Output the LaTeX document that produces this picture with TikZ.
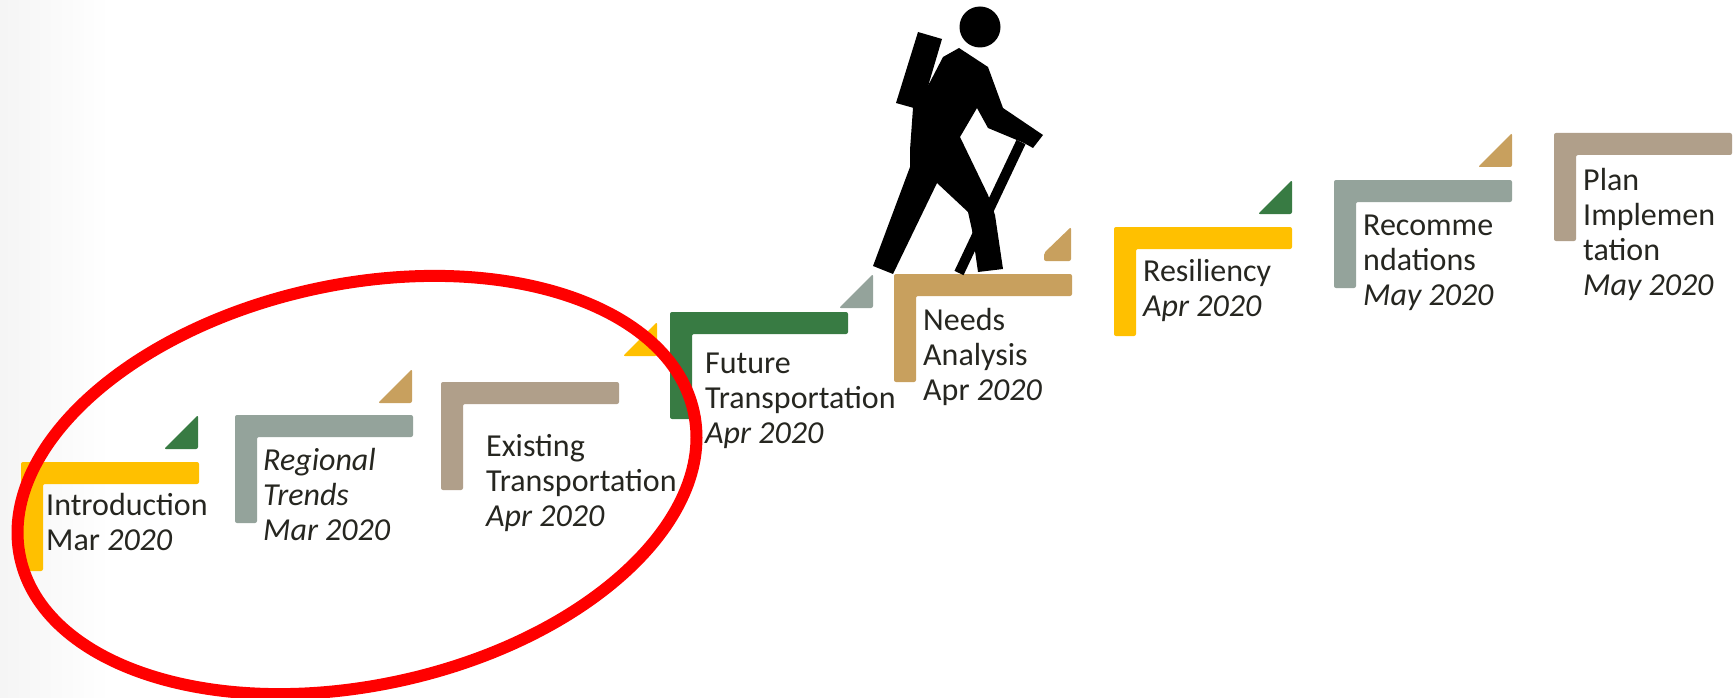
\documentclass[tikz,border=0pt]{standalone}
\usepackage{fontspec}
\setmainfont{Carlito}
\definecolor{cyel}{HTML}{FFC000}
\definecolor{cgrn}{HTML}{387B43}
\definecolor{cgry}{HTML}{94A39B}
\definecolor{ctan}{HTML}{C8A05E}
\definecolor{cbei}{HTML}{B09F8A}
\definecolor{ctext}{HTML}{262620}
\newcommand\stepL[4]{\fill[#1, rounded corners=2pt] (#2,#3) -- ++(178,0) -- ++(0,22) -- ++(-156,0) -- ++(0,#4-22) -- ++(-22,0) -- cycle;}
\newcommand\triR[3]{\fill[#1, rounded corners=2pt] (#2,#3) -- ++(-34,0) -- ++(34,-34) -- cycle;}
\newcommand\lines[1]{\begin{tabular}[t]{@{}l@{}}#1\end{tabular}}
\begin{document}
\begin{tikzpicture}[x=1pt,y=-1pt,
  lbl/.style={inner sep=0pt, anchor=base west, text=ctext, font=\fontsize{32pt}{35pt}\selectfont},
  hiker/.style={fill=black}]
\useasboundingbox (0,0) rectangle (1735,698);
\fill[white] (0,0) rectangle (1735,698);
\shade[left color=black!4, right color=white] (0,0) rectangle (110,698);
% steps
\stepL{cyel}{21}{462}{109}
\stepL{cgry}{235}{415}{108}
\stepL{cbei}{441}{382}{108}
\stepL{cgrn}{670}{312}{107}
\stepL{ctan}{894}{274}{108}
\stepL{cyel}{1114}{227}{109}
\stepL{cgry}{1334}{180}{108}
\stepL{cbei}{1554}{133}{108}
% triangles
\triR{cgrn}{198}{449}
\triR{ctan}{412}{403}
\triR{cyel}{657}{356}
\triR{cgry}{873}{308}
\fill[ctan, rounded corners=2pt] (1044,261) -- (1071,261) -- (1071,227) -- (1044,253) -- cycle;
\triR{cgrn}{1292}{214}
\triR{ctan}{1512}{167}
% labels
\node[lbl] (intro) at (46,515) {\lines{Introduction\\Mar \textit{2020}}};
\node[lbl] (regional) at (263,470) {\lines{\textit{Regional}\\\textit{Trends}\\\textit{Mar 2020}}};
\node[lbl] (existing) at (486,456) {\lines{Existing\\Transportation\\\textit{Apr 2020}}};
\node[lbl] (future) at (705,373) {\lines{Future\\Transportation\\\textit{Apr 2020}}};
\node[lbl] (needs) at (923,330) {\lines{Needs\\Analysis\\Apr \textit{2020}}};
\node[lbl] (resil) at (1143,281) {\lines{Resiliency\\\textit{Apr 2020}}};
\node[lbl] (recom) at (1363,235) {\lines{Recomme\\ndations\\\textit{May 2020}}};
\node[lbl] (plan) at (1583,190) {\lines{Plan\\Implemen\\tation\\\textit{May 2020}}};
% hiker
\fill[hiker] (980,27) circle[radius=20.5pt];
\fill[hiker] (918,32) -- (942,39) -- (921,110) -- (896,103) -- cycle;
\fill[hiker] (959,48) -- (988,67) -- (1003,108) -- (1043,135) -- (1033,148) -- (1024,143)
  -- (988,128) -- (977,108) -- (960,137) -- (988,195) -- (995,215) -- (1003,269)
  -- (978,272) -- (972,230) -- (968,212) -- (937,183) -- (893,274) -- (873,266)
  -- (910,167) -- (910,150) -- (913,108) -- (930,82) -- (943,57) -- cycle;
\draw[black, line width=10pt] (1021,142) -- (959,273);
% red ellipse
\draw[red, line width=12pt, rotate around={12.2:(357,485)}] (357,485) ellipse[x radius=344.6pt, y radius=200.5pt];
\end{tikzpicture}
\end{document}
